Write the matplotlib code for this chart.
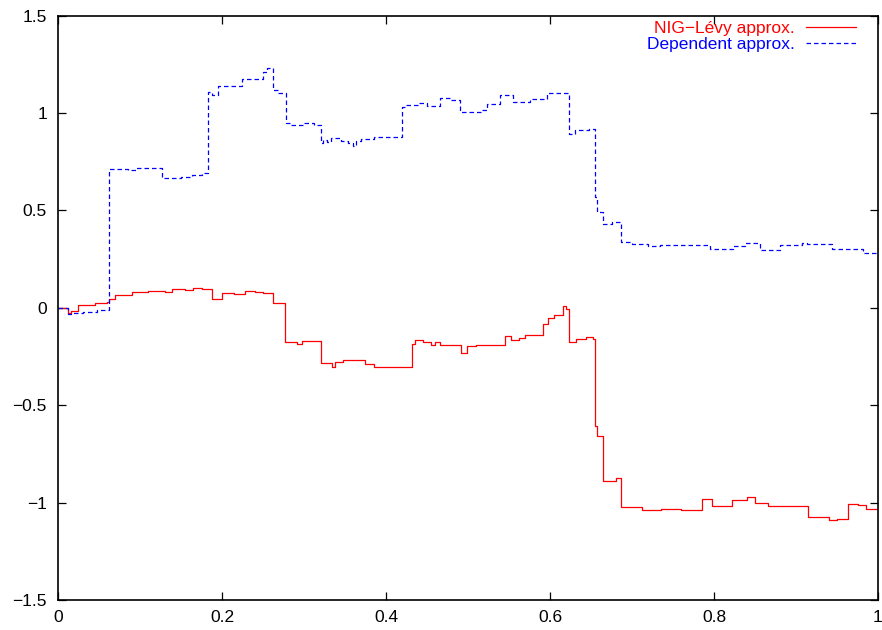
import matplotlib
matplotlib.use("Agg")
import matplotlib.pyplot as plt

# Step paths: (time, value) at each jump, held constant until the next jump
nig_t = [0.0, 0.0126, 0.016, 0.0248, 0.045, 0.0594, 0.0626, 0.0695, 0.09, 0.11,
         0.13, 0.139, 0.155, 0.165, 0.175, 0.1874, 0.2, 0.215, 0.228, 0.24, 0.25,
         0.2626, 0.277, 0.292, 0.298, 0.3203, 0.3337, 0.338, 0.3475, 0.3744,
         0.385, 0.4313, 0.4355, 0.445, 0.4545, 0.4595, 0.4655, 0.4915, 0.499,
         0.51, 0.5451, 0.553, 0.562, 0.5695, 0.591, 0.598, 0.605, 0.616, 0.619,
         0.6236, 0.632, 0.6445, 0.652, 0.6549, 0.657, 0.665, 0.68, 0.6866, 0.70,
         0.712, 0.735, 0.76, 0.785, 0.797, 0.8215, 0.83, 0.84, 0.85, 0.866,
         0.915, 0.94, 0.95, 0.963, 0.975, 0.985, 1.0]
nig_v = [0.0, -0.025, -0.015, 0.013, 0.025, 0.032, 0.047, 0.064, 0.081, 0.086,
         0.083, 0.095, 0.092, 0.1, 0.095, 0.047, 0.078, 0.07, 0.086, 0.082, 0.077,
         0.025, -0.176, -0.185, -0.172, -0.283, -0.304, -0.278, -0.266, -0.29,
         -0.304, -0.184, -0.167, -0.175, -0.19, -0.175, -0.19, -0.232, -0.198,
         -0.193, -0.146, -0.163, -0.154, -0.141, -0.081, -0.055, -0.039, 0.008, -0.004,
         -0.176, -0.16, -0.15, -0.16, -0.607, -0.658, -0.889, -0.875, -1.022, -1.022,
         -1.04, -1.033, -1.036, -0.98, -1.019, -0.988, -0.985, -0.971, -1.0, -1.017,
         -1.074, -1.091, -1.085, -1.005, -1.01, -1.031, -1.031]

dep_t = [0.0, 0.0126, 0.0175, 0.031, 0.0475, 0.0626, 0.085, 0.095, 0.114, 0.127,
         0.15, 0.163, 0.175, 0.183, 0.188, 0.195, 0.224, 0.25, 0.2545, 0.2618,
         0.268, 0.2777, 0.2825, 0.30, 0.312, 0.3203, 0.3235, 0.3285, 0.3325,
         0.345, 0.354, 0.3595, 0.363, 0.3695, 0.3855, 0.419, 0.4245, 0.4394,
         0.4496, 0.466, 0.478, 0.4902, 0.5167, 0.5228, 0.539, 0.5553, 0.5756,
         0.596, 0.6236, 0.63, 0.648, 0.6549, 0.657, 0.665, 0.675, 0.686, 0.70,
         0.72, 0.734, 0.795, 0.823, 0.838, 0.856, 0.88, 0.907, 0.913, 0.944,
         0.982, 1.0]
dep_v = [0.0, -0.03, -0.028, -0.02, -0.009, 0.711, 0.705, 0.715, 0.718, 0.666,
         0.672, 0.68, 0.69, 1.108, 1.09, 1.137, 1.176, 1.21, 1.228, 1.117,
         1.10, 0.946, 0.937, 0.948, 0.937, 0.846, 0.86, 0.85, 0.869,
         0.858, 0.846, 0.829, 0.855, 0.864, 0.877, 1.031, 1.04, 1.051,
         1.035, 1.074, 1.067, 1.005, 1.015, 1.045, 1.091, 1.057, 1.069,
         1.10, 0.894, 0.91, 0.92, 0.569, 0.492, 0.432, 0.44, 0.338, 0.325,
         0.318, 0.321, 0.299, 0.316, 0.333, 0.295, 0.321, 0.333, 0.325, 0.304,
         0.283, 0.283]

x_ticks = [0, 0.2, 0.4, 0.6, 0.8, 1]
x_labels = ["0", "0.2", "0.4", "0.6", "0.8", "1"]
y_ticks = [-1.5, -1, -0.5, 0, 0.5, 1, 1.5]
y_labels = ["\u22121.5", "\u22121", "\u22120.5", "0", "0.5", "1", "1.5"]

plt.rcParams["font.family"] = ["Liberation Sans", "DejaVu Sans"]
fs = 12.5

fig = plt.figure(figsize=(8.82, 6.3), dpi=100)
ax = fig.add_axes([58 / 882, 30 / 630, 820 / 882, 584.5 / 630])

ax.plot(nig_t, nig_v, drawstyle="steps-post", color="#ff0000", lw=0.9,
        label="NIG\u2212Lévy approx.")
ax.plot(dep_t, dep_v, drawstyle="steps-post", color="#0000ff", lw=0.9,
        linestyle=(0, (3.6, 2.4)), label="Dependent approx.")

ax.set_xlim(0, 1)
ax.set_ylim(-1.5, 1.5)
ax.set_xticks(x_ticks, x_labels)
ax.set_yticks(y_ticks, y_labels)
ax.tick_params(direction="in", length=6, width=0.9, top=True, right=True,
               labelsize=fs, colors="black")
ax.tick_params(axis="y", pad=8)
ax.tick_params(axis="x", pad=7)
for s in ax.spines.values():
    s.set_linewidth(1.2)

ax.legend(loc="upper right", bbox_to_anchor=(0.973, 0.99), frameon=False,
          markerfirst=False, fontsize=fs, labelcolor="linecolor",
          handlelength=2.9, handletextpad=0.6, borderpad=0, borderaxespad=0,
          labelspacing=0.0)

fig.savefig("out.png", dpi=100)
